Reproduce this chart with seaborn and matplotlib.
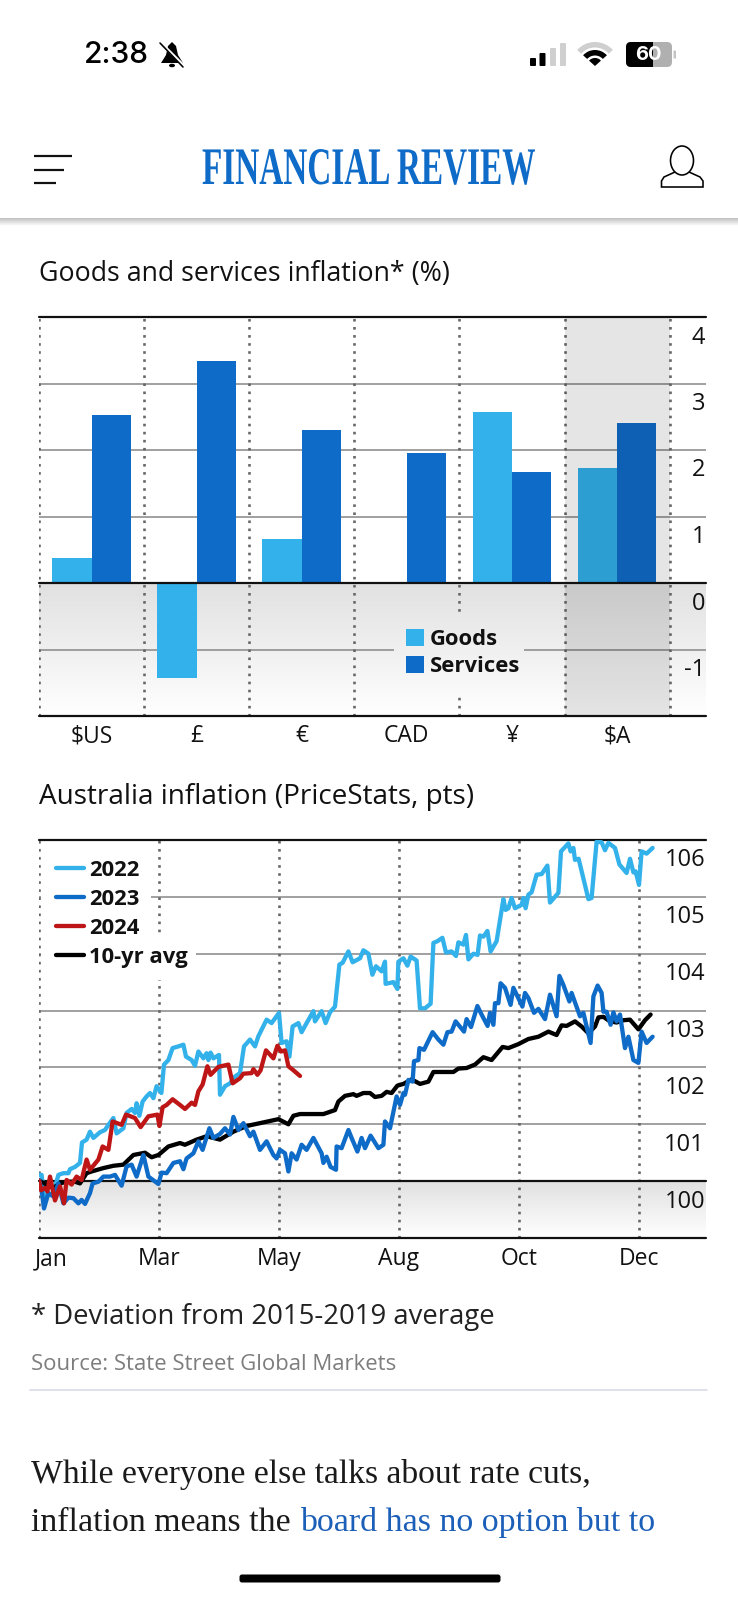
import numpy as np
import pandas as pd
import matplotlib
matplotlib.use("Agg")
import matplotlib.pyplot as plt
import seaborn as sns
from matplotlib.colors import LinearSegmentedColormap
from matplotlib.patches import Rectangle, FancyBboxPatch, Ellipse, Polygon, Wedge
from matplotlib.patheffects import AbstractPathEffect
from matplotlib.transforms import ScaledTranslation, Affine2D

# ---------- data ----------
currencies = ["$US", "£", "€", "CAD", "¥", "$A"]
goods = [0.37, -1.43, 0.66, 0.0, 2.57, 1.73]
services = [2.52, 3.34, 2.30, 1.95, 1.67, 2.41]

month_labels = ["Jan", "Mar", "May", "Aug", "Oct", "Dec"]
month_days = [0, 60, 120, 180, 240, 300]

days_2022 = [0,1.3,2.5,7.2,9.7,12.2,14.7,15.5,18,20.5,21.5,23.8,25.5,27.2,30.5,33,34.7,37.2,38.8,42.2,43.8,46.3,48,48.8,50.2,51.8,53.8,55.5,57.2,58.8,61.2,62.5,64.7,66.8,69.7,72.2,73.5,76.3,78,79.7,82.2,83.8,84.7,85.8,87.2,90,90.5,93,95.5,98,100.5,102.5,105.5,108,109.7,113.8,116.3,120,121.3,123.8,125.2,126.8,129.7,131.3,133.8,137.2,138,141.3,143.3,145.5,148,150.2,151.8,154.7,156.8,160.5,162.2,164.7,166.7,168.5,171.3,173,173.3,177.2,179.2,179.7,182.2,184.2,185.8,188.8,190.5,193,195.8,197.2,199.2,201.7,203.5,206.3,208.5,209.7,212.2,213.5,214.7,217.2,219.3,220.5,222.2,224.2,225.8,228.8,232.2,233.3,234.7,236.3,238,241.3,242.2,243.3,244.7,246.3,248.8,251.3,254.2,255.5,259.7,261,264.7,265.8,267.2,268,269.8,274.7,276.3,278.8,281.3,283,284.7,288,290.2,293.8,295.5,297.2,298.3,300,301.3,303.8,306.8]
vals_2022 = [100.11,100.11,99.73,99.79,100.11,100.14,100.14,100.21,100.25,100.32,100.68,100.73,100.87,100.76,100.86,100.90,100.99,101.11,100.84,100.93,101.20,101.27,101.20,101.37,101.15,101.40,101.49,101.55,101.46,101.67,101.55,102.05,102.13,102.34,102.37,102.40,102.19,102.13,102.03,102.28,102.16,102.25,102.13,102.26,102.16,102.22,101.52,101.67,101.72,101.84,101.90,102.37,102.49,102.37,102.55,102.84,102.78,102.96,102.43,102.46,102.19,102.72,102.78,102.62,102.78,102.99,102.81,102.99,102.78,102.97,103.07,103.81,103.84,104.04,103.85,103.92,104.06,104.00,103.63,103.78,103.69,103.86,103.47,103.50,103.38,103.86,103.92,103.79,103.95,103.88,103.04,103.04,103.12,104.19,104.22,104.28,104.02,104.04,103.96,104.20,104.16,104.33,103.90,104.00,103.98,104.32,104.30,104.40,104.04,104.22,104.96,104.77,104.80,104.98,104.80,104.86,104.98,104.80,105.04,105.08,105.39,105.40,105.55,104.90,105.07,105.80,105.94,105.80,105.86,105.65,105.67,104.96,104.98,105.97,105.96,105.82,105.95,105.86,105.57,105.42,105.67,105.43,105.45,105.21,105.80,105.76,105.86]

days_2023 = [0,1.3,2.5,4.7,7.2,9.7,12.2,14.7,17.2,19.7,21.3,23,25.5,26.8,29.7,32.2,35.5,38,41.3,43.8,46.3,48.8,52.2,54.7,59.7,61.3,63.8,67.2,70.5,72.2,73.8,77.2,79.7,81.8,85.2,87.2,90.5,93,95.5,97.2,99.7,102.2,105.5,107.2,110.5,113.8,117.2,118.8,120.5,123,124.7,126.3,128.8,131.3,133.8,137.2,141.3,142.2,143.8,145.8,148.5,148.8,151.3,154.7,156.3,159.2,161.3,163,165.8,169.7,172.2,173,175.5,178.8,180.5,182.2,183,184.7,186.8,187.5,189.7,190.2,192.5,196.8,199.7,202.2,204.2,206.3,208.3,212.5,213.8,216,219.2,221.3,224.3,225.5,227.2,228,229.7,230.8,233,235.8,237.2,241.7,243,244.7,247.5,249.7,253,255.5,258.8,260.2,262.2,265.2,266.3,270.5,272.2,273.8,275.8,277.2,279.3,281.3,282.2,283.8,285.8,287.2,288.8,290.5,293,294.7,297.2,299.7,301.3,303.8,306.8]
vals_2023 = [100.02,99.85,99.52,99.79,99.73,99.96,99.61,99.71,99.70,99.61,99.67,99.60,99.79,99.96,99.99,100.08,100.08,100.11,99.92,100.26,100.29,100.08,100.46,100.08,99.95,100.15,100.14,100.32,100.35,100.21,100.40,100.49,100.70,100.55,100.93,100.76,100.83,100.93,100.82,101.13,100.90,101.02,100.79,100.87,100.55,100.70,100.46,100.40,100.55,100.49,100.17,100.49,100.38,100.64,100.55,100.76,100.49,100.32,100.43,100.25,100.20,100.61,100.58,100.90,100.76,100.52,100.76,100.58,100.80,100.58,100.64,101.05,100.93,101.49,101.34,101.55,101.52,101.78,101.75,102.11,102.13,102.34,102.31,102.62,102.49,102.40,102.62,102.63,102.81,102.63,102.85,102.71,103.08,102.93,102.73,102.96,102.75,103.13,103.13,103.48,103.40,103.10,103.40,103.07,103.31,103.22,102.96,103.03,102.85,103.28,102.90,103.61,103.45,103.16,103.31,102.90,102.96,102.72,102.43,103.25,103.44,103.31,102.98,102.98,102.75,102.97,102.81,102.93,102.34,102.54,102.13,102.08,102.63,102.43,102.54]

days_2024 = [0,1,3,4.2,5.5,8,10.5,12.5,13.8,16.3,18.8,21.3,23.8,25.5,29.7,31.8,34.7,36.8,41.3,43.5,48,50.8,54.7,59.2,60.2,61.8,63.8,66.8,70.5,73,76.3,78,79.7,81.8,84.2,85.8,89.7,94.7,96.8,100.5,102.2,106.3,107.2,109.2,110.8,113.5,117.2,119.2,121,123,124.7,127.2,130.5]
vals_2024 = [100.01,99.84,99.88,99.82,100.08,99.66,99.91,99.61,100.02,99.94,100.08,100.02,100.38,100.20,100.38,100.61,100.55,101.05,100.99,101.17,101.11,100.95,101.14,101.17,100.97,101.30,101.34,101.44,101.34,101.27,101.38,101.34,101.58,101.70,102.02,101.87,102.01,102.05,101.72,101.81,101.89,101.90,101.97,101.87,101.95,102.30,102.16,102.38,102.28,102.30,102.02,101.95,101.85]

days_avg = [0,3.8,7.2,10.5,13.8,18,20.5,23.8,26.3,32.2,37.2,42.2,47.2,53,56.3,59.7,64.7,70.5,73,78.8,83.8,90.5,97.2,103.8,110.5,119.7,124.7,127.2,130.5,142.2,148,149.7,153,157.2,158.8,162.2,165.5,168,171.3,173.8,176.3,179.2,182.2,186.3,190.5,194.7,197.2,207.2,209.7,213.8,218,222.2,226.3,231.8,234.7,239.7,244.7,249.7,254.7,258.8,261.3,263.8,268,271.3,274.7,278,279.7,282.2,285.5,288.8,292.2,295.5,299.7,303,305.8]
vals_avg = [100.01,99.94,99.88,99.96,99.99,99.99,99.96,100.14,100.17,100.23,100.27,100.29,100.46,100.50,100.42,100.46,100.61,100.67,100.64,100.73,100.79,100.73,100.87,100.97,101.02,101.09,101.00,101.15,101.18,101.18,101.25,101.40,101.50,101.53,101.50,101.55,101.55,101.48,101.50,101.57,101.55,101.68,101.71,101.79,101.71,101.75,101.92,101.92,101.98,101.99,102.05,102.18,102.13,102.36,102.34,102.41,102.50,102.54,102.63,102.57,102.74,102.73,102.81,102.72,102.60,102.72,102.88,102.89,102.81,102.79,102.83,102.84,102.67,102.83,102.93]

LIGHT, DARK, RED = "#33B1EA", "#0F6BC8", "#BE1616"

sns.set_theme(style="white")
plt.rcParams["font.family"] = ["Open Sans", "DejaVu Sans"]
plt.rcParams["lines.solid_joinstyle"] = "round"
plt.rcParams["lines.solid_capstyle"] = "round"

W, H = 738, 1600
fig = plt.figure(figsize=(W / 100, H / 100), dpi=100, facecolor="white")
px = 0.72  # points per pixel


class Squeeze(AbstractPathEffect):
    """Draw a real text object horizontally condensed about its left edge."""
    def __init__(self, sx):
        super().__init__()
        self.sx = sx

    def draw_path(self, renderer, gc, tpath, affine, rgbFace=None):
        renderer.draw_path(gc, tpath, Affine2D().scale(self.sx, 1) + affine, rgbFace)


# page overlay in pixel coordinates
over = fig.add_axes([0, 0, 1, 1], zorder=0)
over.set_axis_off()

def add_chart(left, top, right, bottom):
    ax = fig.add_axes([left / W, 1 - bottom / H, (right - left) / W, (bottom - top) / H],
                      zorder=1, facecolor="none")
    for s in ax.spines.values():
        s.set_visible(False)
    ax.grid(False)
    return ax

fade = LinearSegmentedColormap.from_list("fade", ["#e1e1e1", "#ffffff"])
ramp = np.linspace(0, 1, 128).reshape(-1, 1)
GRID = "#8c8c8c"
DOT = dict(color="#666666", lw=2.6 * px, ls=(0, (1, 2.1)), zorder=1.5)

def finish_y(ax, ticks, labels, shift):
    ax.set_yticks(ticks)
    ax.set_yticklabels(labels)
    ax.tick_params(axis="y", left=False, right=False, labelleft=False, labelright=True,
                   length=0, pad=0, labelsize=17, labelcolor="#111111")
    off = ScaledTranslation(-1 / 100, -shift / 100, fig.dpi_scale_trans)
    for t in ax.yaxis.get_major_ticks():
        t.label2.set_ha("right")
        t.label2.set_va("center")
        t.label2.set_transform(t.label2.get_transform() + off)

# ---------- chart 1 ----------
ax1 = add_chart(39, 317, 706, 716)
df1 = pd.DataFrame({"cur": currencies * 2,
                    "kind": ["Goods"] * len(goods) + ["Services"] * len(services),
                    "val": goods + services})
sns.barplot(data=df1, x="cur", y="val", hue="kind", order=currencies,
            palette={"Goods": LIGHT, "Services": DARK}, width=0.75, gap=0,
            saturation=1, ax=ax1, zorder=3, errorbar=None, linewidth=0)
x1 = (-0.5, 5.846)
ax1.imshow(ramp, cmap=fade, aspect="auto", extent=(x1[0], x1[1], -2, 0), zorder=0.5, vmin=0, vmax=1)
for v in [3, 2, 1, -1]:
    ax1.axhline(v, color=GRID, lw=1.6 * px, zorder=1)
for v in np.arange(-0.5, 6):
    ax1.axvline(v, **DOT)
lgbox = ax1.imshow(ramp, cmap=fade, aspect="auto", extent=(x1[0], x1[1], -2, 0), zorder=1.6, vmin=0, vmax=1)
lgbox.set_clip_path(Rectangle((394, 617), 130, 80, transform=over.transData))
ax1.axvspan(4.5, 5.5, color="black", alpha=0.1, lw=0, zorder=3.5)
for v, lw in [(4, 2.2), (0, 2.2), (-2, 2.2)]:
    ax1.axhline(v, color="#111111", lw=lw * px, zorder=4, clip_on=False)
ax1.set_xlim(*x1)
ax1.set_ylim(-2, 4)
ax1.set_xlabel("")
ax1.set_ylabel("")
ax1.tick_params(axis="x", bottom=False, length=0, pad=6, labelsize=16.5, labelcolor="#111111")
h, l = ax1.get_legend_handles_labels()
ax1.legend(h, l, loc="upper left", bbox_to_anchor=(405.6, 629.3), bbox_transform=over.transData,
           frameon=False, borderpad=0, borderaxespad=0, prop={"size": 15.8, "weight": "bold"},
           handlelength=0.82, handleheight=0.78, handletextpad=0.29, labelspacing=0.27,
           labelcolor="#111111").set_zorder(5)
finish_y(ax1, [4, 3, 2, 1, 0, -1], ["4", "3", "2", "1", "0", "-1"], 20.5)

# ---------- chart 2 ----------
ax2 = add_chart(39, 840, 706, 1238)
series = [("2022", days_2022, vals_2022), ("2023", days_2023, vals_2023),
          ("2024", days_2024, vals_2024), ("10-yr avg", days_avg, vals_avg)]
df2 = pd.concat([pd.DataFrame({"day": d, "val": v, "series": n}) for n, d, v in series])
sns.lineplot(data=df2, x="day", y="val", hue="series", estimator=None, sort=False,
             hue_order=[s[0] for s in series],
             palette={"2022": LIGHT, "2023": DARK, "2024": RED, "10-yr avg": "black"},
             lw=4.3 * px, ax=ax2, legend=True)
for ln, z in zip(ax2.get_lines()[:4], [3, 3.2, 3.3, 3.1]):
    ln.set_zorder(z)
x2 = (0, 333.5)
ax2.imshow(ramp, cmap=fade, aspect="auto", extent=(x2[0], x2[1], 99, 100), zorder=0.5, vmin=0, vmax=1)
for v in [105, 104, 103, 102, 101]:
    ax2.axhline(v, color=GRID, lw=1.6 * px, zorder=1)
for v in month_days:
    ax2.axvline(v, **DOT)
for v in [106, 100, 99]:
    ax2.axhline(v, color="#111111", lw=2.2 * px, zorder=2, clip_on=False)
for (xa, ya, w, hh) in [(41, 885, 109.7, 27), (41, 934, 154.7, 46)]:
    ax2.add_patch(Rectangle((xa, ya), w, hh, transform=over.transData, color="white",
                            lw=0, zorder=1.6))
ax2.set_xlim(*x2)
ax2.set_ylim(99, 106)
ax2.set_xlabel("")
ax2.set_ylabel("")
ax2.set_xticks(month_days)
ax2.set_xticklabels(month_labels)
ax2.tick_params(axis="x", bottom=False, length=0, pad=6.5, labelsize=16.5, labelcolor="#111111")
jan = ax2.xaxis.get_major_ticks()[0].label1
jan.set_ha("left")
jan.set_transform(jan.get_transform() + ScaledTranslation(-4 / 100, 0, fig.dpi_scale_trans))
h, l = ax2.get_legend_handles_labels()
ax2.legend(h, l, loc="upper left", bbox_to_anchor=(55.7, 859.5), bbox_transform=over.transData,
           frameon=False, borderpad=0, borderaxespad=0, prop={"size": 15.8, "weight": "bold"},
           handlelength=1.27, handletextpad=0.25, labelspacing=0.37,
           labelcolor="#111111").set_zorder(5)
finish_y(ax2, [106, 105, 104, 103, 102, 101, 100], ["106", "105", "104", "103", "102", "101", "100"], 20.5)

# ---------- page furniture ----------
over.imshow(np.linspace(0, 1, 16).reshape(-1, 1),
            cmap=LinearSegmentedColormap.from_list("sh", ["#c2c2c2", "#ffffff"]),
            aspect="auto", extent=(0, W, 226, 218), zorder=0)
over.set_xlim(0, W)
over.set_ylim(H, 0)

over.text(84, 55, "2:38", fontsize=21.5, family="Inter", weight="medium", color="black", va="center", ha="left")
# bell with slash
over.add_patch(Polygon([(172, 42), (176, 46), (178, 55), (183, 63), (161, 63), (166, 55), (168, 46)],
                       closed=True, color="black", lw=0))
over.plot([161, 184], [43, 66], color="white", lw=3 * px)
over.plot([160, 183], [43, 67], color="black", lw=1.6 * px)
over.add_patch(Ellipse((172, 65.5), 6, 3.5, color="black", lw=0))
# signal
for xb, top_, c in [(530, 58, "black"), (539.5, 53, "black"), (550, 48, "#cfcfcf"), (560, 43, "#cfcfcf")]:
    over.add_patch(FancyBboxPatch((xb + 1, top_ + 1), 4, 66 - top_ - 2, boxstyle="round,pad=1",
                                  color=c, lw=0))
# wifi
over.add_patch(Wedge((595, 66), 24, 222, 318, width=5.5, color="#cfcfcf", lw=0))
over.add_patch(Wedge((595, 66), 16, 222, 318, width=5.5, color="black", lw=0))
over.add_patch(Wedge((595, 66), 8, 222, 318, color="black", lw=0))
# battery
over.add_patch(FancyBboxPatch((631, 47), 36, 15, boxstyle="round,pad=5", color="#b0b0b0", lw=0))
clipbat = Rectangle((626, 40), 27, 30, transform=over.transData)
bb = FancyBboxPatch((631, 47), 36, 15, boxstyle="round,pad=5", color="black", lw=0)
over.add_patch(bb)
bb.set_clip_path(clipbat)
over.add_patch(FancyBboxPatch((674, 51), 1.5, 7, boxstyle="round,pad=0.5", color="#c4c4c4", lw=0))
over.text(648, 55, "60", fontsize=14.5, family="Inter", weight="bold", color="white", ha="center", va="center")
# header: real text, condensed to the masthead's proportions
mast = over.text(202, 171, "FINANCIAL REVIEW", fontsize=38, family="Liberation Serif", weight="bold",
                 color="#0F6BC8", ha="left", va="center")
mast.set_path_effects([Squeeze(0.63)])
for xe, ye in [(72, 156), (64, 170), (56, 183)]:
    over.plot([34, xe], [ye, ye], color="#111111", lw=2.2 * px, solid_capstyle="butt")
over.add_patch(Ellipse((682, 160.5), 23, 29, fc="white", ec="black", lw=1.6 * px))
over.add_patch(Polygon([(661.5, 187), (661.5, 181), (664, 177), (675, 172), (677, 170), (687, 170),
                        (689, 172), (700, 177), (703, 181), (703, 187)],
                       closed=True, fc="white", ec="black", lw=1.6 * px, zorder=0.9))
# titles and notes
over.text(39, 274, "Goods and services inflation* (%)", fontsize=19.3, color="#111111", va="center")
over.text(39, 797, "Australia inflation (PriceStats, pts)", fontsize=20.1, color="#111111", va="center")
over.text(31, 1317, "* Deviation from 2015-2019 average", fontsize=19.85, color="#222222", va="center")
over.text(31, 1365, "Source: State Street Global Markets", fontsize=15.9, color="#7d7d7d", va="center")
over.plot([30, 707], [1390, 1390], color="#d6d9e6", lw=1.6 * px)
over.text(31, 1475, "While everyone else talks about rate cuts,", fontsize=24.2, family="Liberation Serif",
          color="#1a1a1a", va="center")
over.text(31, 1523, "inflation means the ", fontsize=24.4, family="Liberation Serif", color="#1a1a1a", va="center")
over.text(300, 1523, "board has no option but to", fontsize=24.5, family="Liberation Serif", color="#1C5FB8", va="center")
over.add_patch(FancyBboxPatch((242, 1577), 256, 3, boxstyle="round,pad=2.5", color="black", lw=0))

fig.savefig("out.png", dpi=100)
